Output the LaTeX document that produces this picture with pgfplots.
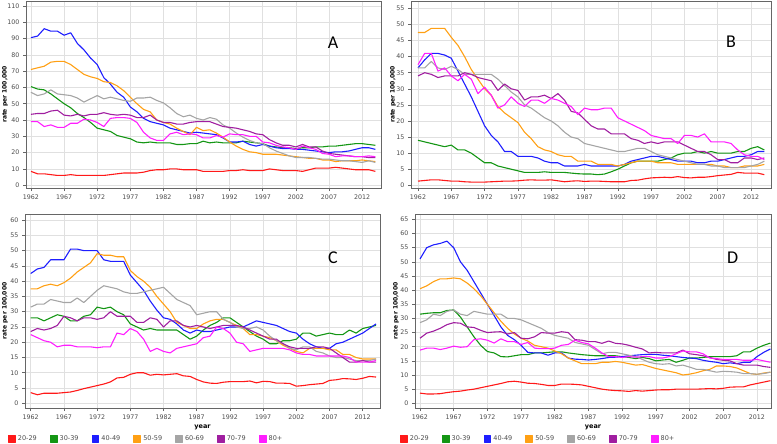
\documentclass[border=0pt]{standalone}
\usepackage{fontspec}
\setmainfont{DejaVu Sans}
\newfontfamily\letterfont{Carlito}
\usepackage{pgfplots}
\usepackage{pgfplotstable}
\pgfplotsset{compat=1.18}

\definecolor{c2}{RGB}{255,25,25}
\definecolor{c3}{RGB}{20,150,20}
\definecolor{c4}{RGB}{30,30,255}
\definecolor{c5}{RGB}{255,160,20}
\definecolor{c6}{RGB}{165,165,165}
\definecolor{c7}{RGB}{160,30,160}
\definecolor{c8}{RGB}{255,30,255}

% panel A
\pgfplotstableread{
yr r2 r3 r4 r5 r6 r7 r8
1962 8.5 60.5 90.5 71 57 43.5 39
1963 7 59 91.5 72 55 44 39
1964 7 58.5 96 73 56 44 36
1965 6.5 56 94.5 75.5 58.5 45.5 37
1966 6 53 94.5 76 56 46 35.5
1967 6 50 92 76 55.5 43 35.5
1968 6.5 47.5 93.5 74 55 42.5 38
1969 6 44 87 71 53.5 43.5 38
1970 6 41.5 83 68 51 42.5 40.5
1971 6 38.5 78 66.5 53 43.5 40
1972 6 35 74 65.5 55 43.5 38.5
1973 6 34 66 63.5 53 44.5 36
1974 6.5 33 62 63 54 43.5 41
1975 7 30.5 57 61 53 43 41.5
1976 7.5 29.5 54 58 52 43.5 41.5
1977 7.5 28.5 48 54 51.5 43 41
1978 7.5 26.5 45 50 53.5 41.5 38.5
1979 8 26 41 46.5 53.5 41.5 32.5
1980 9 26.5 39 45 54 43 29
1981 9.5 26 38 40 52 40 27.5
1982 9.5 26 37 38.5 50.5 38.5 27.5
1983 10 26 35 37.5 47.5 38.5 31.5
1984 10 25 34 35 44 37.5 32.5
1985 9.5 25 33 33 42 37.5 31
1986 9.5 25.5 32 31 43 38.5 31.5
1987 9.5 25.5 32.5 35.5 41 39 31
1988 8.5 27 32 33.5 40 39 29
1989 8.5 26 31.5 34 41.5 39 29
1990 8.5 26.5 31 32 40.5 37.5 30.5
1991 8.5 26 29 29.5 37 36 29.5
1992 9 26 26.5 26.5 35 35.5 31.5
1993 9 26 26.5 24 32 35 31
1994 9.5 27 27 22 29.5 34 31
1995 9 26.5 25 20.5 27.5 33 30
1996 9 26 24 20 26 31.5 30
1997 9 25.5 25 19 25.5 31 26.5
1998 10 24 24 19 23 28 26
1999 9.5 23.5 23 19 21 26 24.5
2000 9 23 22.5 18.5 19.5 24.5 23.5
2001 9 23 22.5 18 18 24.5 23
2002 9 22.5 22 17.5 17 23.5 22
2003 8.5 23 22 17 17 25 24
2004 9.5 23 21.5 16.5 17 23.5 23
2005 10.5 23.5 21 16.5 16.5 23.5 22
2006 10.5 23.5 20.5 15.5 16 21 19.5
2007 10.5 24 20 15.5 16 19.5 19
2008 11 24 20.5 14.5 15.5 19 17.5
2009 10.5 24.5 20.5 15 15 18.5 18
2010 10 25 21 15 15 18 18
2011 9.5 25.5 22 15 14.5 17.5 17.5
2012 9.5 25.5 23 15.5 14 17.5 17.5
2013 9.5 25 23 15 15 17 18
2014 8.5 24.5 22 14.5 14 17 17.5
}\tabA

% panel B
\pgfplotstableread{
yr r2 r3 r4 r5 r6 r7 r8
1962 1.3 14 36.5 47.5 36.5 34 37.5
1963 1.5 13.5 39 47.5 36.5 35 41
1964 1.7 13 41 48.8 38.5 34.5 41
1965 1.7 12.5 41 48.8 36.5 33.5 35.5
1966 1.5 12 40.5 48.8 36 34 36.5
1967 1.3 12.5 39.5 46 37 34 34
1968 1.3 11 35.5 43.5 36 34 32.5
1969 1.1 11 31.5 40 34.5 35 34.5
1970 1 10 27.5 36 34.5 34.5 33
1971 1 8.5 23 33 34.5 33.5 28.5
1972 1 7 18.5 30 34.5 33 30.5
1973 1.1 7 15.5 28 34.5 32.5 28
1974 1.2 6 13.5 24.5 33 29.5 24
1975 1.3 5.5 10.5 22.5 31 31.5 25
1976 1.3 5 10.5 21 29 30 27.5
1977 1.4 4.5 9 19.5 27.5 29.5 25.5
1978 1.6 4 9 16.5 25 26.5 24.5
1979 1.7 4 9 14.5 24 27.5 26.5
1980 1.6 4 8.5 12 22.5 27.5 26.5
1981 1.6 4.2 7.5 11 21 28 25.5
1982 1.7 4 7 10.5 20 27 27
1983 1.4 4 7 9.5 18.5 28.5 26.5
1984 1.1 4 6 9 16.5 26.5 25.5
1985 1.3 3.8 6 9 15 23 24.5
1986 1.4 3.6 6 7.5 14.5 22.5 22
1987 1.2 3.5 6.5 7.5 13 20.5 24
1988 1.3 3.5 6 7.5 12.5 18.5 23.5
1989 1.3 3.3 6 6.5 12 17.5 23.5
1990 1.2 3.5 6 6.5 11.5 17.5 24
1991 1.1 4.2 6 6.5 11 16 24
1992 1.1 5 6 6 10.5 16 21
1993 1.1 6 6.5 6.5 10.5 16 20
1994 1.5 7 7.5 7 11 14.5 19
1995 1.6 7.5 8 7.5 11.5 14 18
1996 2 7.5 8.5 7.5 11.5 13 17
1997 2.3 7.5 9 7.5 10.5 13.5 15.5
1998 2.4 7.5 9 7 9.5 13 15
1999 2.5 8 8.5 7 9 13.5 14.5
2000 2.4 8.5 8 7 8.5 13.5 14.5
2001 2.7 9.5 7.5 6.5 8 13.5 13
2002 2.4 10 7.5 6.5 7.5 12.5 15.5
2003 2.3 10 7.5 6.5 7 11.5 15.5
2004 2.5 10.5 7 6.5 6.5 10.5 15
2005 2.5 10 7 6.5 6.5 10.5 16
2006 2.7 10.5 7.5 6.5 6 9.5 13.5
2007 3 10 7.5 6 6 8 13.5
2008 3.2 10 8 6 5.5 8 13.5
2009 3.4 10 8.5 5.5 5.5 7 13
2010 4 10.5 9 5.5 5.5 7 11
2011 3.8 10.5 9 6 5.5 8.5 9.5
2012 3.8 11.5 9.5 6 6 8.5 9
2013 3.8 12 10.5 6 6.5 8 9
2014 3.3 11 10.5 6.5 7.5 8.5 8
}\tabB

% panel C
\pgfplotstableread{
yr r2 r3 r4 r5 r6 r7 r8
1962 3.5 28 42.5 37.5 31.5 23.5 22.5
1963 2.8 28 44 37.5 32.5 24.5 21.5
1964 3.3 27 44.5 38.5 32.5 24 20.5
1965 3.3 28 47 39 34 24.5 20
1966 3.3 29 47 38.5 33.5 25.5 18.5
1967 3.5 28.5 47 39.5 33 28.5 19
1968 3.7 27 50.5 41 33 28 19
1969 4.2 27 50.5 43 34.5 27 18.5
1970 4.8 28.5 50 44.5 33 28 18.5
1971 5.3 29 50 46 35 28 18.5
1972 5.8 31.5 50 49 37 27.5 18.2
1973 6.3 31 47 48.5 38.5 28 18.5
1974 7 31.5 46.5 48.5 38 30 18.5
1975 8.3 30 46.5 48 37.5 28.5 23
1976 8.5 29 46.5 48 36.5 28.5 22.5
1977 9.5 26 42 43.5 36 28.5 24.5
1978 10 25 39.5 41.5 36 26.5 23.5
1979 10 24 37 40 36.5 26.5 21
1980 9.2 24.5 33.5 38 37 28 17
1981 9.5 24 30.5 35 37.5 27.5 18
1982 9.3 24 28 32.5 38 25 17
1983 9.5 24 27.5 30 36 27 16.5
1984 9.7 24 26 26.5 34 27 18
1985 9 22.5 24 25.5 33 25.5 18.5
1986 8.8 21 23 24.5 32 25 19
1987 7.8 22 24 24.5 29 25.5 19.5
1988 7 24 23.5 26 29.5 25 21.5
1989 6.6 25.5 23.5 27 30 24.5 22
1990 6.5 26.5 24 27.5 30 25 25
1991 6.9 28 24.5 27.5 27.5 25.5 24.5
1992 7.1 28 25 26.5 26.5 25.5 23
1993 7.1 26.5 25 25.5 25 25.5 20
1994 7.1 25 25 24.5 24.5 25 19.5
1995 7.3 23.5 26 22.5 24.5 24 17
1996 6.7 22 27 22.5 25 23 17.5
1997 7.2 21 26.5 22 24 22 18
1998 7.1 19.5 26 21.5 22 21 18
1999 6.6 19.5 25.5 20.5 20.5 21 18
2000 6.6 20.5 24.5 19 19.5 19.5 18
2001 6.5 20.5 23.5 18 18 18.5 17.5
2002 5.6 21 23 17 17.5 18 16.5
2003 5.8 23 21 16.5 18.5 18 16
2004 6.1 23 19.5 18 18.5 18 16
2005 6.3 22 18.5 18 17 18.5 15.5
2006 6.5 22.5 18 18 16.5 18.5 15.5
2007 7.5 23 18 17.5 15.5 18 15.5
2008 7.7 22.5 19.5 17.5 15 16.5 15.5
2009 8.1 22.5 20 16 15 15 15.5
2010 8 24 21 16 14.5 13.5 15
2011 7.8 23 22 15 14 13.5 13.5
2012 8.2 24.5 23 14.5 14 14 13.5
2013 8.8 25 24.5 14.5 14 13.5 13.5
2014 8.6 25.5 26 14.5 14.5 13.5 14
}\tabC

% panel D
\pgfplotstableread{
yr r2 r3 r4 r5 r6 r7 r8
1962 3.6 31.5 51 40.5 28.5 23 18.8
1963 3.3 31.8 55 41.5 29.5 24.8 19.5
1964 3.3 32 56 43 31.5 25.5 19.5
1965 3.4 32 56.5 44 31 26.5 19
1966 3.8 32.8 57.3 44 32.5 27.8 19.5
1967 4.1 33 55 44.3 33 28.5 20.2
1968 4.3 30.5 50 44 31.5 28.3 19.8
1969 4.7 27 47 42.5 31 27 20
1970 5 23.5 43 40.5 32.5 26.8 22.5
1971 5.5 20.5 39 38 32 25.8 22.8
1972 6 18.3 35 35 31.5 25 22.3
1973 6.5 17.8 31 32 31.5 25.2 21.3
1974 7 16.5 27 29 31.5 25.3 22.8
1975 7.6 16.4 24 26.5 30 24.5 21.8
1976 7.8 16.8 22.5 24.5 30 25 21.8
1977 7.5 17.2 20.5 23 29.5 23 20.8
1978 7.1 17.2 18 22 28.5 22.8 21.5
1979 7 17.8 17.8 20.5 27.5 23.5 19.5
1980 6.7 17.8 17.8 20 26.5 25 19.3
1981 6.3 18 17 19.5 25 24.8 19.3
1982 6.3 18.2 17.8 18.5 24 24.8 19.5
1983 6.8 18.2 17.8 17.5 23.5 25.3 20.5
1984 6.8 17.8 16 16 23 25 20.8
1985 6.7 17.5 15.6 15 21.5 22.5 22.3
1986 6.5 17.2 15.5 14 21 22.3 21.5
1987 6 17 15.3 14 20.5 21.8 21
1988 5.5 16.8 15.5 14 19 21.8 19.5
1989 5 16.8 15.8 14.5 17.5 21.2 17.8
1990 4.7 16.8 16.2 14.5 18 22 16.5
1991 4.5 16.8 16.3 14.8 18 21.2 16.5
1992 4.4 16.5 16.5 14.5 17.5 21 16.2
1993 4.2 16.2 16.8 14 17 20.5 16.5
1994 4.5 15.8 17 13.5 16.5 19.8 16.3
1995 4.3 16.2 17.2 13.7 15.5 19.2 16.5
1996 4.5 15.8 17.3 13 14.5 17.8 16.5
1997 4.7 15 17.3 12.3 14 18 16
1998 4.8 15.3 17 11.8 13.8 17.8 16
1999 4.8 15.5 16.8 11.3 14 17.8 16.5
2000 5 14.5 16.5 10.8 13.2 17.8 17.5
2001 5 15.2 16.2 10 13.5 18.8 18.5
2002 5 16 16 10.3 12.8 17.5 18.2
2003 5 16 15.8 10.8 12 17.2 18.2
2004 5.1 16.2 15.2 11.5 12 16.8 17.5
2005 5.2 16.5 14.8 12 11.5 16.2 16
2006 5.1 16.5 14.5 13.2 11 15.5 15.8
2007 5.3 16.5 14 13.2 11.3 15.2 15.5
2008 5.7 16.5 14.3 13 11.2 15 15.5
2009 5.8 16.8 14 12.5 11 14 15.5
2010 5.8 18.2 14.5 11.5 10.5 13.5 15.2
2011 6.5 18.2 14.5 10.5 10.5 13.5 15.2
2012 7 19.5 16.5 10.2 10.3 13.5 15.5
2013 7.5 20.5 18 10.7 10.5 13 15
2014 8 21.3 19.2 11 11 12.7 14.5
}\tabD

\pgfplotsset{
  panel/.style={
    scale only axis, anchor=south west,
    axis line style={black!60, line width=0.9pt},
    grid=major, grid style={black!12, line width=0.6pt},
    tick align=outside, tick pos=left, major tick length=3pt,
    tick style={black!60, line width=0.6pt},
    xtick={1962,1967,...,2012},
    ticklabel style={font=\fontsize{6.3}{7}\selectfont, text=black!70},
    /pgf/number format/1000 sep={},
    /pgf/number format/assume math mode=true,
    every axis plot/.append style={line width=1.1pt, line join=round, mark=none},
    ylabel={rate per 100,000},
    ylabel style={font=\fontsize{6}{7}\selectfont\bfseries, anchor=center},
    xlabel style={font=\fontsize{6.5}{7}\selectfont\bfseries, anchor=center},
  },
  leg/.style={
    legend columns=7,
    legend style={draw=none, fill=none, inner sep=0pt, outer sep=0pt,
      anchor=west, font=\fontsize{6.5}{7}\selectfont, text=black!70,
      /tikz/every even column/.append style={column sep=11pt}},
  },
}

\newcommand{\sevenlines}[1]{%
  \addplot[c2] table[x=yr,y=r2] {#1};
  \addplot[c3] table[x=yr,y=r3] {#1};
  \addplot[c4] table[x=yr,y=r4] {#1};
  \addplot[c5] table[x=yr,y=r5] {#1};
  \addplot[c6] table[x=yr,y=r6] {#1};
  \addplot[c7] table[x=yr,y=r7] {#1};
  \addplot[c8] table[x=yr,y=r8] {#1};
}

\begin{document}
\begin{tikzpicture}
\useasboundingbox (0,0) rectangle (777pt,-444pt);

% A
\begin{axis}[panel, at={(26pt,-188pt)}, width=355pt, height=187pt,
  xmin=1961.25, xmax=2014.85, ymin=-1.7, ymax=113,
  ytick={0,10,...,110},
  ylabel style={at={(axis description cs:-0.059,0.5)}}]
\sevenlines{\tabA}
\node[font=\letterfont\fontsize{18}{18}\selectfont] at (axis cs:2007.6,87.3) {A};
\end{axis}

% B
\begin{axis}[panel, at={(411pt,-188pt)}, width=360pt, height=187pt,
  xmin=1960.95, xmax=2015.0, ymin=-0.84, ymax=57.3,
  ytick={0,5,...,55},
  ylabel style={at={(axis description cs:-0.05,0.5)}}]
\sevenlines{\tabB}
\node[font=\letterfont\fontsize{18}{18}\selectfont] at (axis cs:2009.0,44.5) {B};
\end{axis}

% C
\begin{axis}[panel, leg, at={(25pt,-408pt)}, width=355pt, height=194pt,
  xmin=1961.14, xmax=2014.6, ymin=-1.54, ymax=62,
  ytick={0,5,...,60},
  xlabel={year},
  xlabel style={at={(axis description cs:0.5,-0.102)}},
  ylabel style={at={(axis description cs:-0.056,0.5)}},
  legend style={at={(axis description cs:0,0)}, xshift=-17pt, yshift=-31pt},
  legend image code/.code={\fill[#1] (0pt,-3.4pt) rectangle (6.8pt,3.4pt);}]
\sevenlines{\tabC}
\legend{20-29,30-39,40-49,50-59,60-69,70-79,80+}
\node[font=\letterfont\fontsize{18}{18}\selectfont] at (axis cs:2007.5,47.6) {C};
\end{axis}

% D
\begin{axis}[panel, leg, at={(415pt,-408pt)}, width=356pt, height=194pt,
  xmin=1961.26, xmax=2014.08, ymin=-1.66, ymax=66.9,
  ytick={0,5,...,65},
  xlabel={year},
  xlabel style={at={(axis description cs:0.5,-0.102)}},
  ylabel style={at={(axis description cs:-0.053,0.5)}},
  legend style={at={(axis description cs:0,0)}, xshift=-15pt, yshift=-31pt},
  legend image code/.code={\fill[#1] (0pt,-3.4pt) rectangle (6.8pt,3.4pt);}]
\sevenlines{\tabD}
\legend{20-29,30-39,40-49,50-59,60-69,70-79,80+}
\node[font=\letterfont\fontsize{18}{18}\selectfont] at (axis cs:2008.4,51.3) {D};
\end{axis}
\end{tikzpicture}
\end{document}
